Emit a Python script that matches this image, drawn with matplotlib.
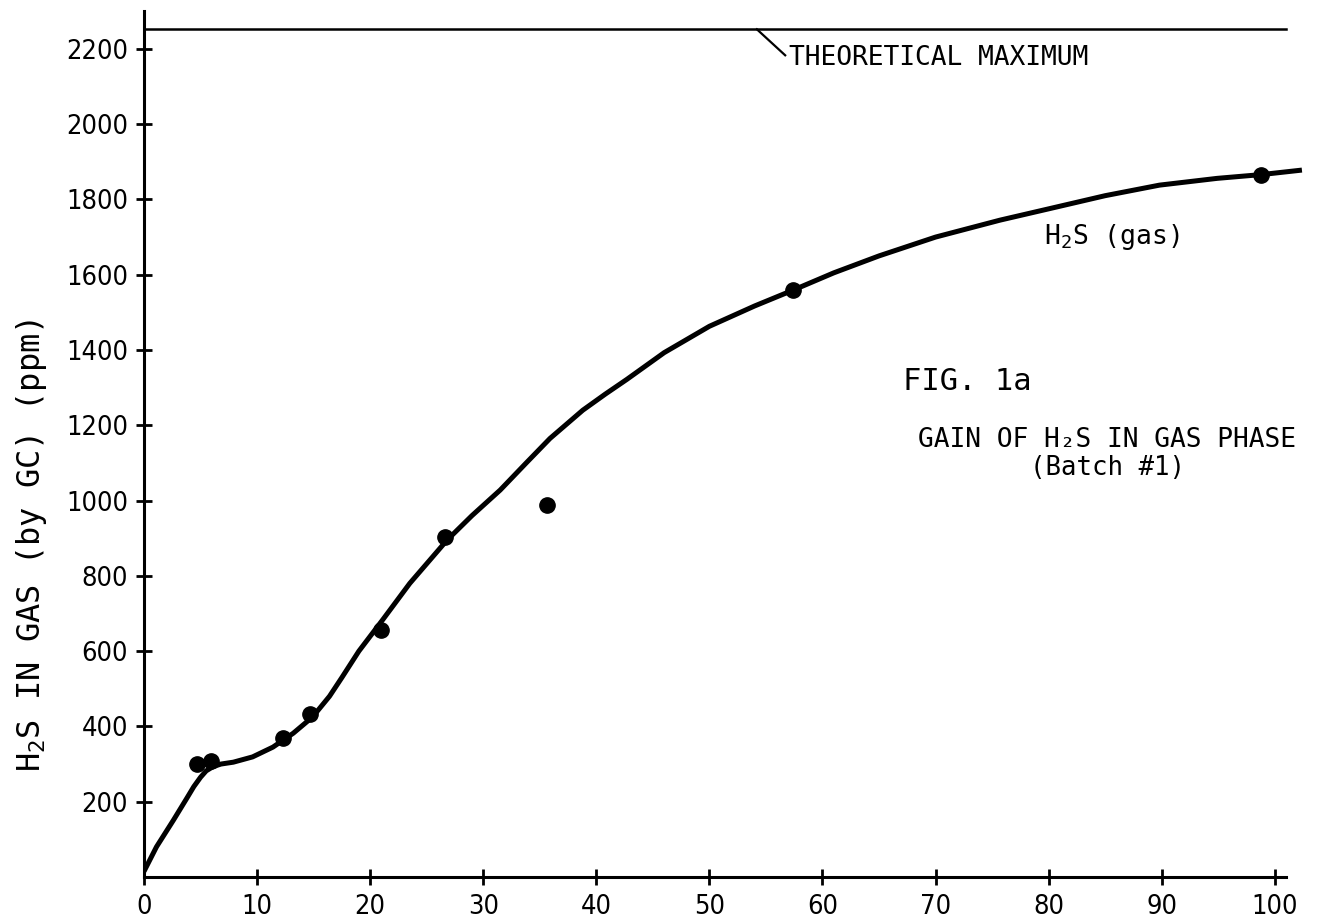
import numpy as np
import matplotlib
matplotlib.use("Agg")
import matplotlib.pyplot as plt

plt.rcParams['font.family'] = ['DejaVu Sans']
plt.rcParams['font.stretch'] = 'condensed'
plt.rcParams['mathtext.fontset'] = 'custom'
plt.rcParams['mathtext.rm'] = 'DejaVu Sans Mono'
plt.rcParams['mathtext.default'] = 'regular'

# measured points (time, ppm H2S)
pts_x = [4.7, 5.9, 12.3, 14.7, 21.0, 26.6, 35.6, 57.4, 98.8]
pts_y = [300, 308, 369, 433, 656, 903, 988, 1559, 1866]

# hand-drawn smooth curve, traced
curve_x = [0.0, 1.1, 2.6, 3.8, 4.4, 5.0, 5.5, 6.1, 6.8, 7.9, 9.6, 11.4, 13.2,
           14.9, 16.4, 17.5, 19.0, 21.1, 23.5, 26.8, 29.0, 31.5, 33.8, 35.9,
           38.8, 40.8, 42.7, 46.0, 50.0, 54.0, 57.4, 61.0, 65.0, 70.0, 75.7,
           80.0, 85.0, 89.8, 94.9, 98.8, 102.4]
curve_y = [15, 80, 151, 210, 240, 265, 282, 293, 300, 305, 319, 345, 382,
           425, 480, 530, 600, 683, 780, 895, 960, 1028, 1100, 1165,
           1240, 1283, 1322, 1393, 1463, 1517, 1559, 1605, 1650, 1700, 1745,
           1775, 1810, 1838, 1856, 1866, 1878]

theo_max = 2252
xticks = np.arange(0, 101, 10)
yticks = np.arange(200, 2201, 200)

mono = 'DejaVu Sans Mono'

fig = plt.figure(figsize=(13.19, 9.21), dpi=100)
ax = fig.add_axes([0.1092, 0.0478, 0.883, 0.940])

ax.plot(curve_x, curve_y, color='black', lw=3.6, solid_capstyle='butt',
        solid_joinstyle='round')
ax.plot(pts_x, pts_y, 'o', color='black', ms=11)
ax.plot([0, 101], [theo_max, theo_max], color='black', lw=1.8)
# leader line to label
ax.plot([54.2, 56.7], [theo_max, 2183], color='black', lw=1.6)

ax.set_xlim(0, 103)
ax.set_ylim(0, 2300)
for s in ['top', 'right']:
    ax.spines[s].set_visible(False)
ax.spines['bottom'].set_bounds(0, 101)
ax.spines['left'].set_linewidth(2.2)
ax.spines['bottom'].set_linewidth(2.2)

ax.set_xticks(xticks)
ax.set_yticks(yticks)
ax.tick_params(direction='inout', length=11, width=2, labelsize=19.5, pad=7)
ax.tick_params(axis='y', pad=6)

ax.set_ylabel('H$_2$S IN GAS (by GC) (ppm)', fontsize=23, family=mono)
ax.yaxis.set_label_coords(-0.082, 0.383)

ax.text(57.0, 2175, 'THEORETICAL MAXIMUM', fontsize=18.9, family=mono,
        ha='left', va='center')
ax.text(85.6, 1700, 'H$_2$S (gas)', fontsize=19, family=mono,
        ha='center', va='center')
ax.text(67.1, 1315, 'FIG. 1a', fontsize=22, family=mono, ha='left', va='center')
ax.text(85.2, 1161, 'GAIN OF H₂S IN GAS PHASE', fontsize=18.9, family=mono,
        ha='center', va='center')
ax.text(85.2, 1086, '(Batch #1)', fontsize=18.5, family=mono,
        ha='center', va='center')

fig.savefig('out.png', dpi=100)
